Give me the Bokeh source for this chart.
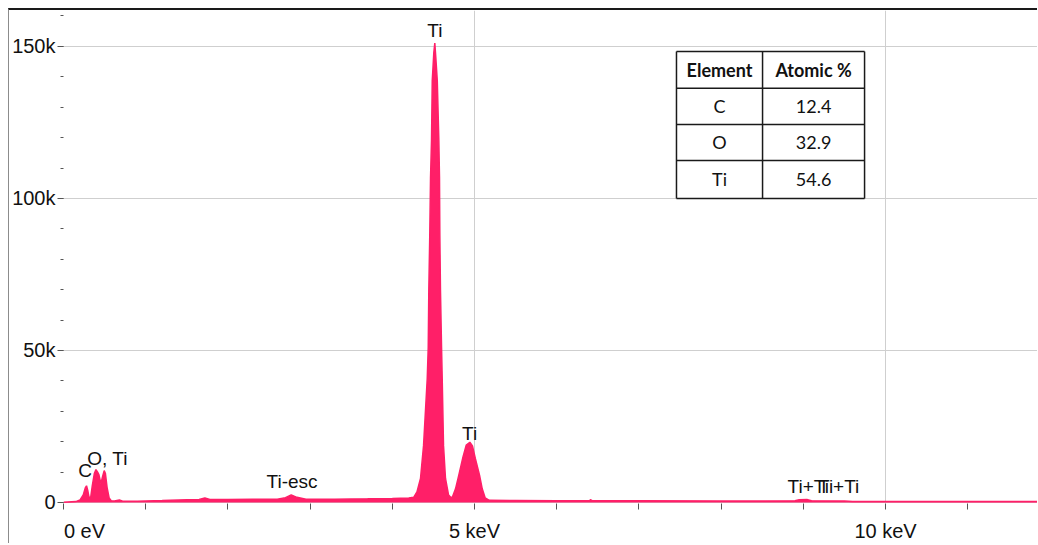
from bokeh.plotting import figure
from bokeh.models import FixedTicker, Range1d, ColumnDataSource
from bokeh.core.properties import value
from bokeh.embed import file_html
from bokeh.resources import INLINE

# ---------------- data ----------------
energy_kev = [0.0, 0.15, 0.20, 0.24, 0.265, 0.28, 0.295, 0.31, 0.33, 0.35, 0.375, 0.395,
              0.415, 0.43, 0.455, 0.475, 0.495, 0.51, 0.53, 0.555, 0.58, 0.62, 0.68, 0.72,
              0.9, 1.2, 1.5, 1.65, 1.72, 1.78, 2.0, 2.3, 2.6, 2.70, 2.77, 2.84, 2.95, 3.3,
              3.7, 4.0, 4.2, 4.26, 4.30, 4.343, 4.38, 4.425, 4.437, 4.444, 4.456, 4.465,
              4.477, 4.486, 4.505, 4.517, 4.53, 4.547, 4.566, 4.574, 4.578, 4.586, 4.599,
              4.607, 4.623, 4.647, 4.684, 4.71, 4.73, 4.769, 4.809, 4.86, 4.90, 4.943, 4.975,
              5.01, 5.061, 5.094, 5.13, 5.18, 5.5, 6.0, 6.40, 6.41, 6.43, 7.0, 8.0, 8.5, 8.9,
              8.95, 9.05, 9.1, 9.5, 9.6, 10.0, 10.5, 11.0, 11.9]
counts = [100, 300, 800, 2500, 4800, 5500, 4000, 1800, 1500, 5500, 9500, 10800,
          10000, 9200, 6200, 8500, 10500, 9500, 5000, 1500, 600, 500, 800, 400,
          450, 650, 900, 1000, 1500, 1000, 1000, 1100, 1100, 1600, 2500, 1700, 1100, 1100,
          1200, 1300, 1500, 1700, 3500, 7900, 18700, 40800, 51000, 69700, 88500, 106900,
          119100, 138800, 148000, 151100, 146000, 138800, 119100, 106900, 88500, 69700, 51000,
          40800, 18700, 7900, 2500, 1700, 1700, 4500, 9000, 15000, 18900, 19800, 18600,
          14500, 9000, 4500, 1500, 700, 650, 600, 600, 900, 600, 550, 500, 500, 550,
          900, 950, 600, 500, 350, 350, 300, 300, 300]

peak_label_text = ["C", "O, Ti", "Ti-esc", "Ti", "Ti", "Ti+Ti", "Ti+Ti"]
peak_label_kev = [0.262, 0.535, 2.78, 4.517, 4.94, 9.06, 9.43]
peak_label_counts = [8200, 12200, 4500, 152900, 20400, 3100, 3100]

table_header = ["Element", "Atomic %"]
table_elements = ["C", "O", "Ti"]
table_atomic_pct = ["12.4", "32.9", "54.6"]

x_tick_values = [0, 5, 10]
x_tick_labels = ["0 eV", "5 keV", "10 keV"]
y_tick_values = [0, 50000, 100000, 150000]
y_tick_labels = ["0", "50k", "100k", "150k"]

# ---------------- styling ----------------
PINK = "#FF1F68"
SANS = "Liberation Sans, Arial, sans-serif"
TABLE_FONT = "Lato, Open Sans, sans-serif"
ZERO_LABEL_SHIFT = 0.255   # the "0 eV" label sits to the right of its tick

p = figure(width=1029, height=535, output_backend="svg", toolbar_location=None,
           x_range=Range1d(0, 11.861), y_range=Range1d(-329, 161800),
           min_border_left=54, min_border_right=0, min_border_top=0, min_border_bottom=42)
p.styles = {"margin-top": "8px", "margin-left": "8px",
            "border-top": "2px solid #1a1a1a", "border-left": "1px solid #8c8c8c"}
p.outline_line_color = None
p.background_fill_color = "white"
p.border_fill_color = "white"

# grids
p.xgrid.ticker = FixedTicker(ticks=x_tick_values)
p.ygrid.ticker = FixedTicker(ticks=y_tick_values)
for g in (p.xgrid, p.ygrid):
    g.grid_line_color = "#cfcfcf"
    g.grid_line_width = 1

# x axis: visible tick marks are the 1 keV minor ticks, labels sit on invisible majors
label_pos = [t + (ZERO_LABEL_SHIFT if t == 0 else 0) for t in x_tick_values]
xa = p.xaxis[0]
xa.ticker = FixedTicker(ticks=label_pos, minor_ticks=list(range(0, 12)))
xa.major_label_overrides = dict(zip(label_pos, x_tick_labels))
xa.axis_line_color = None
xa.major_tick_out = 0
xa.major_tick_in = 0
xa.minor_tick_out = 6
xa.minor_tick_in = 0
xa.minor_tick_line_color = "#555555"
xa.major_label_text_font = SANS
xa.major_label_text_font_size = "20px"
xa.major_label_text_color = "#111111"
xa.major_label_standoff = 10

# y axis
ya = p.yaxis[0]
ya.ticker = FixedTicker(ticks=y_tick_values, minor_ticks=list(range(0, 170000, 10000)))
ya.major_label_overrides = dict(zip(y_tick_values, y_tick_labels))
ya.axis_line_color = None
ya.major_tick_out = 6
ya.major_tick_in = 0
ya.minor_tick_out = 3
ya.minor_tick_in = 0
ya.major_tick_line_color = "#555555"
ya.minor_tick_line_color = "#555555"
ya.major_label_text_font = SANS
ya.major_label_text_font_size = "20px"
ya.major_label_text_color = "#111111"
ya.major_label_standoff = 2

# spectrum
src = ColumnDataSource(dict(e=energy_kev, c=counts))
p.varea(x="e", y1=0, y2="c", source=src, fill_color=PINK)
p.line(x="e", y="c", source=src, line_color=PINK, line_width=1.5)

# peak labels
lab_src = ColumnDataSource(dict(x=peak_label_kev, y=peak_label_counts, t=peak_label_text))
p.text(x="x", y="y", text="t", source=lab_src, text_font=value(SANS), text_font_size="19px",
       text_align="center", text_baseline="alphabetic", text_color="#111111", y_offset=-7)

# table
TABLE_X = [7.457, 8.504, 9.745]
TABLE_Y = [148300, 136200, 124300, 112500, 100000]
p.quad(left=TABLE_X[0], right=TABLE_X[-1], top=TABLE_Y[0], bottom=TABLE_Y[-1],
       fill_color="white", line_color=None)
xs, ys = [], []
for yv in TABLE_Y:
    xs.append([TABLE_X[0], TABLE_X[-1]]); ys.append([yv, yv])
for xv in TABLE_X:
    xs.append([xv, xv]); ys.append([TABLE_Y[0], TABLE_Y[-1]])
p.multi_line(xs=xs, ys=ys, line_color="#1a1a1a", line_width=1.5)

col_c = [(TABLE_X[i] + TABLE_X[i + 1]) / 2 for i in range(2)]
row_c = [(TABLE_Y[i] + TABLE_Y[i + 1]) / 2 for i in range(4)]
p.text(x=col_c, y=[row_c[0]] * 2, text=table_header, text_font=value(TABLE_FONT),
       text_font_size="18px", text_font_style="bold", text_align="center",
       text_baseline="middle", text_color="#111111")
cell_x, cell_y, cell_t = [], [], []
for i, (el, pct) in enumerate(zip(table_elements, table_atomic_pct)):
    cell_x += [col_c[0], col_c[1]]
    cell_y += [row_c[i + 1]] * 2
    cell_t += [el, pct]
p.text(x=cell_x, y=cell_y, text=cell_t, text_font=value(TABLE_FONT), text_font_size="18px",
       text_align="center", text_baseline="middle", text_color="#111111")

open("out.html", "w").write(file_html(p, INLINE))
